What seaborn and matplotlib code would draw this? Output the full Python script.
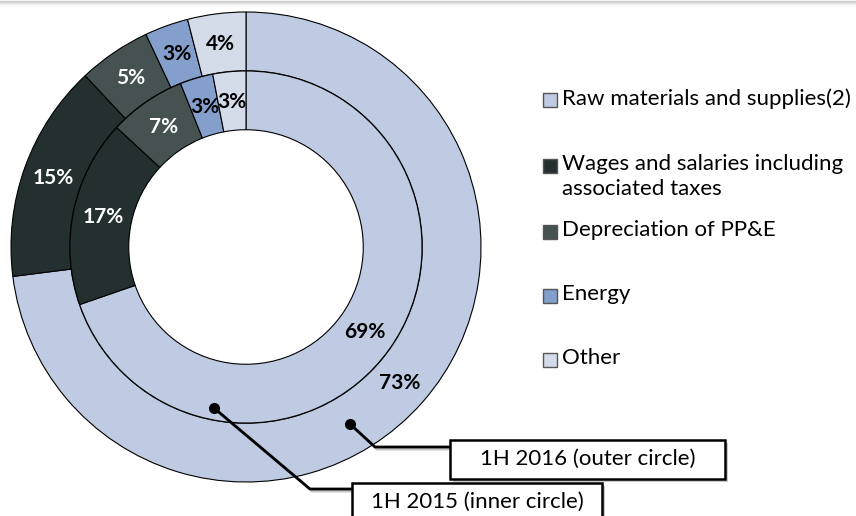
"""Operating cost structure, 1H 2016 vs 1H 2015, double donut."""

import matplotlib
matplotlib.use('Agg')
import matplotlib.pyplot as plt
import matplotlib.patheffects as pe
from matplotlib.patches import Rectangle
import seaborn as sns

sns.set_theme(style='white')
plt.rcParams['font.family'] = ['Lato', 'DejaVu Sans']

categories = ['Raw materials and supplies(2)',
              'Wages and salaries including\nassociated taxes',
              'Depreciation of PP&E', 'Energy', 'Other']
share_2016 = [73, 15, 5, 3, 4]   # outer circle
share_2015 = [69, 17, 7, 3, 3]   # inner circle
colors = sns.color_palette(['#bfcbe2', '#243030', '#465251', '#849fcb', '#d5dce9'])
label_colors = ['black', 'white', 'white', 'black', 'black']

W, H = 856, 516
CX, CY, R = 246, 247, 235   # donut centre and outer radius, pixels

fig = plt.figure(figsize=(W / 100, H / 100), dpi=100)
ax = fig.add_axes([0, 0, 1, 1])


def px(x, y):
    """pixel (from top-left) -> data coords of the pie axes"""
    return (x - CX) / R, (CY - y) / R


def fpx(x, y):
    return x / W, 1 - y / H


wedge_kw = dict(width=0.25, edgecolor='black', linewidth=0.8)

tot16 = sum(share_2016)
w_out, _, t_out = ax.pie(share_2016, radius=1.0, startangle=90, counterclock=False,
                         colors=colors, wedgeprops=wedge_kw, pctdistance=0.872,
                         autopct=lambda p: f'{round(p * tot16 / 100)}%')
tot15 = sum(share_2015)
w_in, _, t_in = ax.pie(share_2015, radius=0.749, startangle=90, counterclock=False,
                       colors=colors, wedgeprops=wedge_kw, pctdistance=0.83,
                       autopct=lambda p: f'{round(p * tot15 / 100)}%')

for texts in (t_out, t_in):
    for t, c in zip(texts, label_colors):
        t.set_color(c)
        t.set_fontweight('bold')
        t.set_fontsize(15)

ax.set_xlim(px(0, 0)[0], px(W, 0)[0])
ax.set_ylim(px(0, H)[1], px(0, 0)[1])
ax.set_aspect('equal')
ax.axis('off')

# callouts
line_fx = [pe.SimpleLineShadow(offset=(1.5, -1.5), alpha=0.25), pe.Normal()]
box_fx = [pe.SimplePatchShadow(offset=(2.5, -2.5), alpha=0.3), pe.Normal()]
callouts = [
    ('1H 2016 (outer circle)', [(350, 424), (375, 447), (450, 447)], (450, 440, 725, 479)),
    ('1H 2015 (inner circle)', [(214, 408), (310, 489), (352, 489)], (352, 483, 602, 530)),
]
for text, pts, (x0, y0, x1, y1) in callouts:
    xs, ys = zip(*[px(*p) for p in pts])
    ax.plot(xs, ys, color='black', lw=2, solid_capstyle='butt', path_effects=line_fx,
            zorder=5)
    ax.plot(xs[0], ys[0], 'o', color='black', ms=7, zorder=6)
    bx0, by0 = px(x0, y1)
    bx1, by1 = px(x1, y0)
    rect = Rectangle((bx0, by0), bx1 - bx0, by1 - by0, facecolor='white',
                     edgecolor='black', lw=1.8, zorder=7, clip_on=False)
    rect.set_path_effects(box_fx)
    ax.add_patch(rect)
    tx, ty = px((x0 + x1) / 2, y0 + 19)
    ax.text(tx, ty, text, ha='center', va='center', fontsize=16, color='black', zorder=8)

# legend
legend_y = [100, 166, 232, 296, 360]
for name, col, y in zip(categories, colors, legend_y):
    fx, fy = fpx(543, y + 7)
    fig.patches.append(Rectangle((fx, fy), 14 / W, 14 / H, transform=fig.transFigure,
                                 facecolor=col, edgecolor='#555555', lw=1.0))
    tx, ty = fpx(562, y - 12)
    fig.text(tx, ty, name, ha='left', va='top', fontsize=16, color='black',
             linespacing=1.3)

# faint grey rule at the top edge
for i, a in enumerate([0.35, 0.25, 0.15, 0.08, 0.04]):
    fig.lines.append(plt.Line2D([0, 1], [fpx(0, i + 0.5)[1]] * 2, transform=fig.transFigure,
                                color='gray', alpha=a, lw=1))

fig.savefig('out.png', dpi=100)
